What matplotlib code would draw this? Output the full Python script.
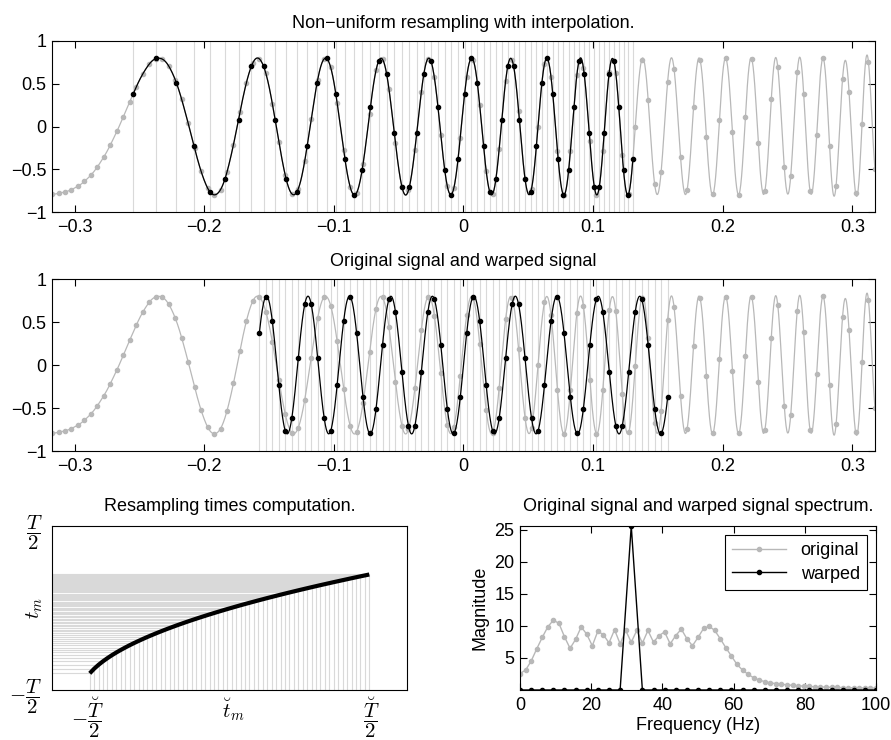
import numpy as np
import matplotlib
matplotlib.use('Agg')
import matplotlib.pyplot as plt

fs = 200.0  # sampling rate, Hz

# original (chirp) samples, uniform grid centred on t = 0
x_orig = np.array([
    -0.792, -0.782, -0.765, -0.738, -0.698, -0.642, -0.568, -0.472, -0.355, -0.216,
    -0.058, 0.114, 0.291, 0.463, 0.614, 0.730, 0.793, 0.789, 0.708, 0.549,
    0.319, 0.041, -0.254, -0.523, -0.719, -0.799, -0.739, -0.533, -0.212, 0.164,
    0.513, 0.746, 0.791, 0.621, 0.267, -0.176, -0.573, -0.787, -0.729, -0.402,
    0.086, 0.549, 0.791, 0.692, 0.276, -0.278, -0.704, -0.777, -0.439, 0.146,
    0.657, 0.786, 0.437, -0.194, -0.706, -0.748, -0.269, 0.409, 0.792, 0.575,
    -0.098, -0.698, -0.723, -0.129, 0.584, 0.776, 0.249, -0.520, -0.788, -0.268,
    0.532, 0.777, 0.187, -0.614, -0.727, 0.000, 0.732, 0.584, -0.286, -0.800,
    -0.286, 0.607, 0.689, -0.172, -0.797, -0.289, 0.641, 0.626, -0.333, -0.784,
    -0.010, 0.782, 0.309, -0.675, -0.529, 0.519, 0.670, -0.360, -0.746, 0.225,
    0.782, -0.128, -0.794, 0.075, 0.797, -0.068, -0.796, 0.108, 0.787, -0.192,
    -0.760, 0.316, 0.698, -0.471, -0.579, 0.632, 0.383, -0.759, -0.105, 0.798,
    -0.231, -0.691, 0.560, 0.406, -0.774, 0.030, 0.753, -0.494])

# warped signal, one value per uniform warped sample
x_warp = np.array([
    0.377, 0.796, 0.508, -0.232, -0.766, -0.618, 0.078, 0.706,
    0.706, 0.078, -0.618, -0.766, -0.232, 0.508, 0.796, 0.377,
    -0.377, -0.796, -0.508, 0.232, 0.766, 0.618, -0.078, -0.706,
    -0.706, -0.078, 0.618, 0.766, 0.232, -0.508, -0.796, -0.377,
    0.377, 0.796, 0.508, -0.232, -0.766, -0.618, 0.078, 0.706,
    0.706, 0.078, -0.618, -0.766, -0.232, 0.508, 0.796, 0.377,
    -0.377, -0.796, -0.508, 0.232, 0.766, 0.618, -0.078, -0.706,
    -0.706, -0.078, 0.618, 0.766, 0.232, -0.508, -0.796, -0.377])

# resampling times t_m (original time axis) of the warped samples
t_res = np.array([
    -0.2550, -0.2369, -0.2215, -0.2079, -0.1956, -0.1842, -0.1736, -0.1637,
    -0.1543, -0.1453, -0.1368, -0.1286, -0.1207, -0.1130, -0.1057, -0.0985,
    -0.0916, -0.0848, -0.0782, -0.0718, -0.0655, -0.0594, -0.0534, -0.0475,
    -0.0418, -0.0361, -0.0306, -0.0251, -0.0198, -0.0145, -0.0093, -0.0042,
    0.0008, 0.0058, 0.0107, 0.0155, 0.0202, 0.0249, 0.0296, 0.0341,
    0.0387, 0.0431, 0.0475, 0.0519, 0.0562, 0.0605, 0.0647, 0.0689,
    0.0730, 0.0771, 0.0812, 0.0852, 0.0892, 0.0931, 0.0970, 0.1009,
    0.1047, 0.1085, 0.1123, 0.1161, 0.1198, 0.1235, 0.1271, 0.1307])

# magnitude spectra (0 .. fs/2)
spec_orig = [2.56, 3.1, 4.5, 6.4, 8.2, 9.85, 10.9, 10.4, 8.3, 6.5,
             7.9, 9.85, 8.7, 6.9, 9.2, 8.6, 7.35, 9.4, 7.2, 9.3,
             7.45, 9.3, 7.3, 9.3, 7.45, 8.5, 9.05, 7.2, 8.5, 9.5,
             8.0, 6.9, 8.2, 9.6, 9.95, 9.3, 8.0, 6.6, 5.3, 4.0,
             3.1, 2.45, 1.9, 1.55, 1.3, 1.1, 1.0, 0.9, 0.8, 0.72,
             0.65, 0.6, 0.55, 0.5, 0.47, 0.44, 0.41, 0.39, 0.37, 0.35,
             0.33, 0.32, 0.31, 0.3, 0.3]
spec_warp = [0, 0, 0, 0, 0, 0, 0, 0, 0, 0, 25.6, 0, 0, 0, 0, 0, 0,
             0, 0, 0, 0, 0, 0, 0, 0, 0, 0, 0, 0, 0, 0, 0, 0]

t_orig = (np.arange(len(x_orig)) - (len(x_orig) - 1) / 2) / fs
t_warp = (np.arange(len(x_warp)) - (len(x_warp) - 1) / 2) / fs
f_orig = np.arange(len(spec_orig)) * fs / (2 * (len(spec_orig) - 1))
f_warp = np.arange(len(spec_warp)) * fs / (2 * (len(spec_warp) - 1))


def reconstruct(tn, xn, tt):
    # sinc reconstruction; the end-to-end ramp is taken out first to tame edge ripple
    ramp_n = xn[0] + (xn[-1] - xn[0]) * (tn - tn[0]) / (tn[-1] - tn[0])
    ramp_t = xn[0] + (xn[-1] - xn[0]) * (tt - tn[0]) / (tn[-1] - tn[0])
    return ramp_t + np.sinc((tt[:, None] - tn[None, :]) * fs) @ (xn - ramp_n)


def reconstruct_periodic(tn, xn, up=16):
    n = len(xn)
    xf = np.fft.irfft(np.fft.rfft(xn), n * up) * up
    tf = tn[0] + np.arange(n * up) / (fs * up)
    keep = tf <= tn[-1] + 1e-9
    return tf[keep], xf[keep]


plt.rcParams['font.family'] = ['Liberation Sans', 'DejaVu Sans']
plt.rcParams['font.size'] = 13
plt.rcParams['axes.titlesize'] = 13
plt.rcParams['mathtext.fontset'] = 'cm'
plt.rcParams['axes.linewidth'] = 0.8
plt.rcParams['xtick.direction'] = 'in'
plt.rcParams['ytick.direction'] = 'in'
plt.rcParams['xtick.top'] = True
plt.rcParams['ytick.right'] = True
plt.rcParams['xtick.major.size'] = 5
plt.rcParams['ytick.major.size'] = 5
plt.rcParams['xtick.major.pad'] = 5
plt.rcParams['ytick.major.pad'] = 4

light = '0.85'
grey = '0.72'

fig = plt.figure(figsize=(8.91, 7.4), dpi=100)
ax1 = fig.add_axes([0.0584, 0.7135, 0.9236, 0.2311])
ax2 = fig.add_axes([0.0584, 0.3905, 0.9236, 0.2324])
ax3 = fig.add_axes([0.0584, 0.0676, 0.3984, 0.2216])
ax4 = fig.add_axes([0.5836, 0.0676, 0.3996, 0.2216])

tt_full = np.linspace(t_orig[0], t_orig[-1], 2000)
x_full = reconstruct(t_orig, x_orig, tt_full)
tt_sub = np.linspace(t_res[0], t_res[-1], 1200)
x_sub = reconstruct(t_orig, x_orig, tt_sub)
tw_fine, xw_fine = reconstruct_periodic(t_warp, x_warp)

xt = [-0.3, -0.2, -0.1, 0, 0.1, 0.2, 0.3]
xt_lab = ['\u22120.3', '\u22120.2', '\u22120.1', '0', '0.1', '0.2', '0.3']
yt = [-1, -0.5, 0, 0.5, 1]
yt_lab = ['\u22121', '\u22120.5', '0', '0.5', '1']

# top: non-uniform resampling of the original signal
ax1.vlines(t_res, -1, 1, color=light, lw=0.8)
ax1.plot(tt_full, x_full, color=grey, lw=0.9)
ax1.plot(t_orig, x_orig, '.', color=grey, ms=6)
ax1.plot(tt_sub, x_sub, color='k', lw=0.9)
ax1.plot(t_res, x_warp, '.', color='k', ms=6)
ax1.set_title('Non\u2212uniform resampling with interpolation.', pad=9.5)

# middle: original and warped signal
ax2.vlines(t_warp, -1, 1, color=light, lw=0.8)
ax2.plot(tt_full, x_full, color=grey, lw=0.9)
ax2.plot(t_orig, x_orig, '.', color=grey, ms=6)
ax2.plot(tw_fine, xw_fine, color='k', lw=0.9)
ax2.plot(t_warp, x_warp, '.', color='k', ms=6)
ax2.set_title('Original signal and warped signal', pad=9.5)

for ax in (ax1, ax2):
    ax.set_xlim(t_orig[0], t_orig[-1])
    ax.set_ylim(-1, 1)
    ax.set_xticks(xt)
    ax.set_xticklabels(xt_lab)
    ax.set_yticks(yt)
    ax.set_yticklabels(yt_lab)

# bottom left: warping function
x_lo = -0.2
ax3.hlines(t_res, x_lo, t_warp, color=light, lw=0.8)
ax3.vlines(t_warp, -0.32, t_res, color=light, lw=0.8)
ax3.plot(t_warp, t_res, color='k', lw=3, solid_capstyle='butt')
ax3.set_xlim(x_lo, 0.2)
ax3.set_ylim(-0.32, 0.32)
ax3.set_xticks([-0.16, 0.16])
ax3.set_xticklabels([r'$-\dfrac{\breve{T}}{2}$', r'$\dfrac{\breve{T}}{2}$'], fontsize=15)
ax3.set_yticks([-0.32, 0.32])
ax3.set_yticklabels([r'$-\dfrac{T}{2}$', r'$\dfrac{T}{2}$'], fontsize=15)
ax3.tick_params(axis='x', length=0, pad=4)
ax3.tick_params(axis='y', length=0, pad=7)
ax3.text(0.51, -0.12, r'$\breve{t}_m$', transform=ax3.transAxes,
         ha='center', va='center', fontsize=15)
ax3.text(-0.05, 0.5, r'$t_m$', transform=ax3.transAxes, ha='center', va='center',
         rotation=90, fontsize=15)
ax3.set_title('Resampling times computation.', pad=11)

# bottom right: spectra
ax4.plot(f_orig, spec_orig, '.-', color=grey, lw=1, ms=6, label='original')
ax4.plot(f_warp, spec_warp, '.-', color='k', lw=1, ms=6, label='warped')
ax4.set_xlim(0, 100)
ax4.set_ylim(0, max(spec_warp))
ax4.set_xticks([0, 20, 40, 60, 80, 100])
ax4.set_yticks([5, 10, 15, 20, 25])
ax4.set_xlabel('Frequency (Hz)', labelpad=2)
ax4.set_ylabel('Magnitude', labelpad=4)
ax4.set_title('Original signal and warped signal spectrum.', pad=11)
leg = ax4.legend(loc='upper right', fancybox=False, edgecolor='k', framealpha=1,
                 handlelength=3, borderaxespad=0.5, borderpad=0.4, labelspacing=0.35)
leg.get_frame().set_linewidth(0.8)

fig.savefig('out.png', dpi=100)
